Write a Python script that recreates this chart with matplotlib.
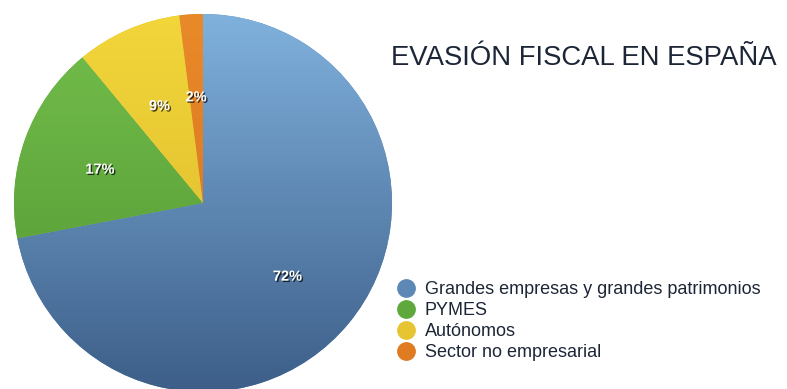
import numpy as np
import matplotlib
matplotlib.use('Agg')
import matplotlib.pyplot as plt
import matplotlib.patheffects as pe
from matplotlib.colors import LinearSegmentedColormap
from matplotlib.lines import Line2D

# Data
labels = ['Grandes empresas y grandes patrimonios', 'PYMES', 'Autónomos', 'Sector no empresarial']
shares = [72, 17, 9, 2]
# (light, dark) pairs for the shaded wedges
light_colors = ['#80b1dd', '#74bf4c', '#f2d63a', '#e98a2a']
dark_colors = ['#3c5e88', '#4f9330', '#d9b52a', '#d36d18']
mid_colors = ['#5d88b6', '#5fa83c', '#e6c432', '#df7b20']
title = 'EVASIÓN FISCAL EN ESPAÑA'

plt.rcParams['font.family'] = ['Liberation Sans', 'DejaVu Sans']

W, H = 787, 389
fig = plt.figure(figsize=(W / 100, H / 100), dpi=100)
fig.patch.set_facecolor('white')

# pie axes: center (203, 203) px from top, radius 189 px
cx, cy, r = 203, 203, 189
ax = fig.add_axes([(cx - r) / W, (H - cy - r) / H, 2 * r / W, 2 * r / H])
ax.set_xlim(-1, 1)
ax.set_ylim(-1, 1)
ax.set_aspect('equal')
ax.axis('off')

wedges, texts, autotexts = ax.pie(
    shares, colors=mid_colors, startangle=90, counterclock=False, radius=1,
    autopct='%d%%', pctdistance=0.58,
    wedgeprops=dict(linewidth=0),
    textprops=dict(color='white', fontsize=10.5, fontweight='bold'))

# vertical gradient inside each wedge
grad = np.linspace(0, 1, 256).reshape(-1, 1)
for w, lc, dc in zip(wedges, light_colors, dark_colors):
    cmap = LinearSegmentedColormap.from_list('g', [dc, lc])
    im = ax.imshow(grad, cmap=cmap, extent=[-1, 1, -1, 1], origin='lower',
                   aspect='auto', zorder=w.get_zorder())
    im.set_clip_path(w)
ax.set_xlim(-1, 1)
ax.set_ylim(-1, 1)

for t in autotexts:
    x, y = t.get_position()
    t.set_position((x, y - 0.02))  # labels sit a little below the geometric spot
    t.set_zorder(5)
    t.set_path_effects([pe.withSimplePatchShadow(offset=(1, -1), shadow_rgbFace='black', alpha=0.7)])

fig.text(391 / W, 1 - 58 / H, title, fontsize=19.8, color='#1c2636', va='center', ha='left')

handles = [Line2D([], [], marker='o', linestyle='none', markersize=12.5,
                  markerfacecolor=c, markeredgecolor=c) for c in mid_colors]
fig.legend(handles, labels, loc='upper left', bbox_to_anchor=(395 / W, 1 - 281 / H),
           frameon=False, fontsize=13, handletextpad=0.46, labelspacing=0.23,
           handlelength=1.2, borderaxespad=0, borderpad=0, labelcolor='#1c2636')

fig.savefig('out.png', dpi=100)
